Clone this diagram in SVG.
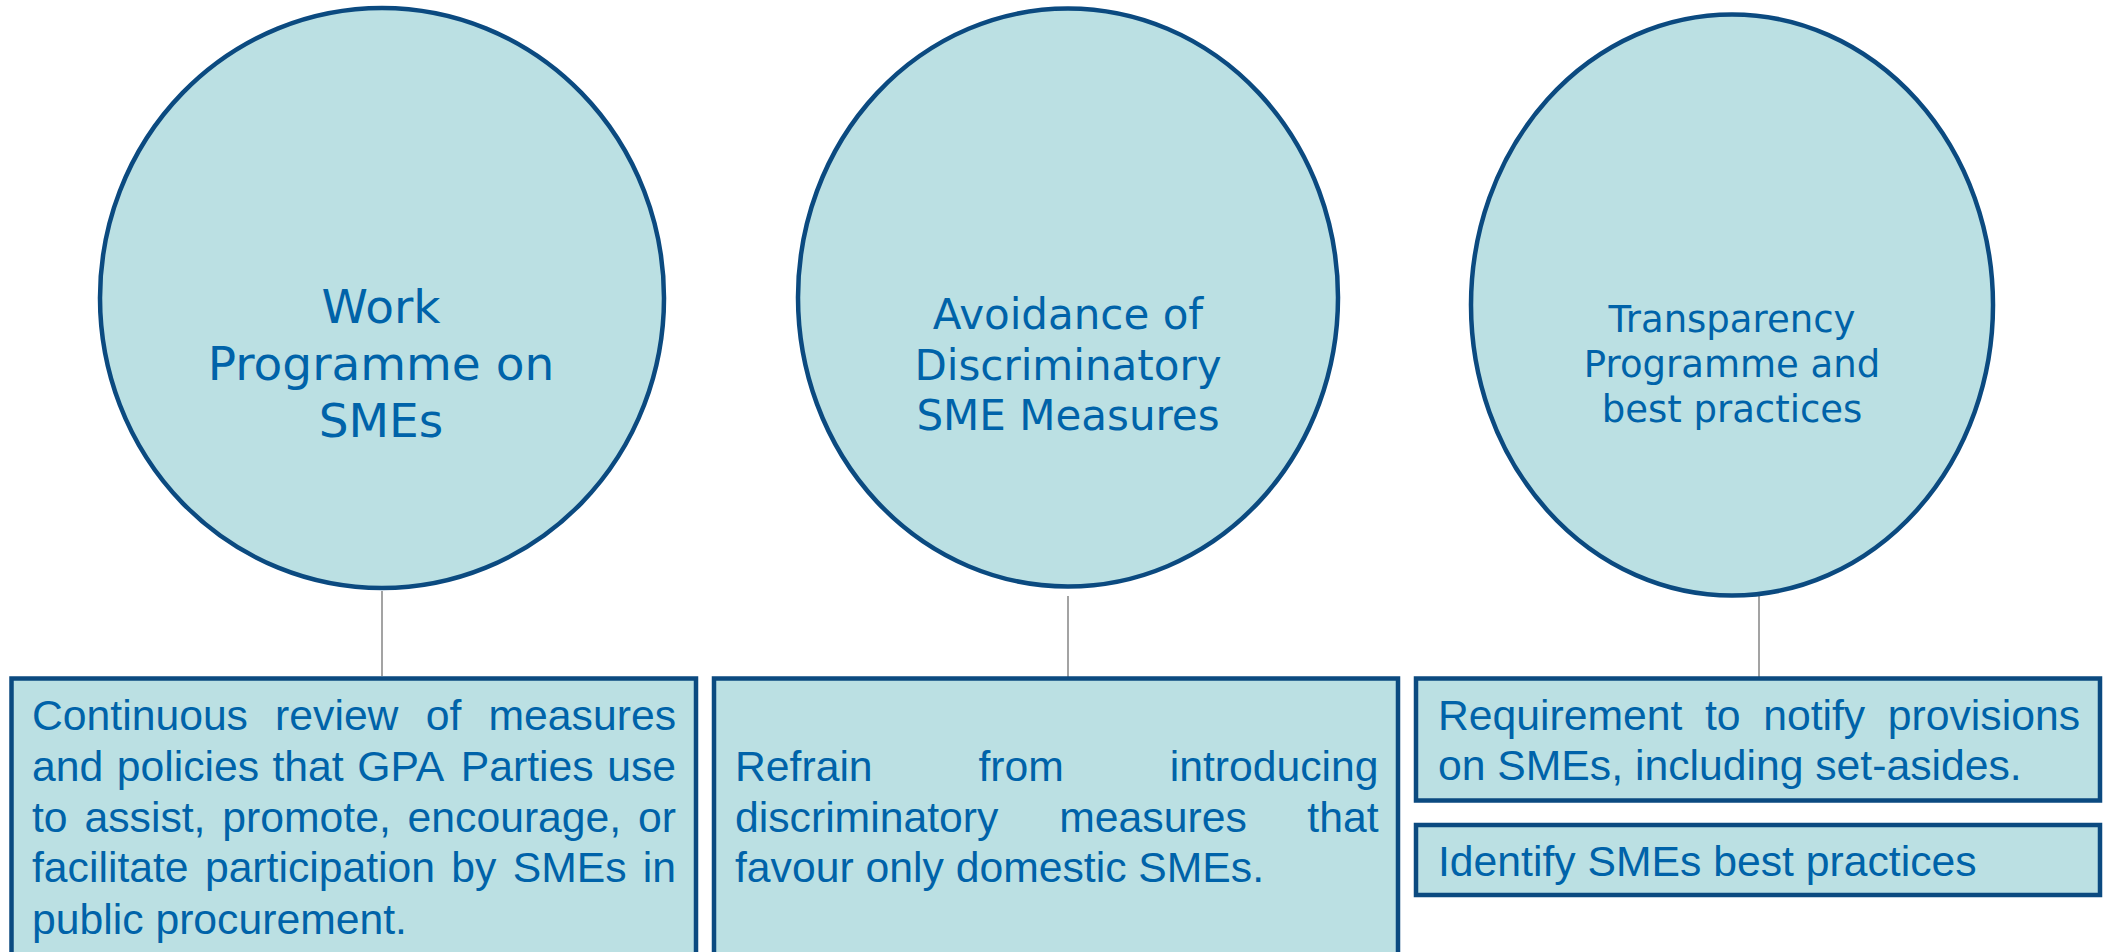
<svg xmlns="http://www.w3.org/2000/svg" width="2103" height="952" viewBox="0 0 2103 952">
<style>
.node{fill:#BBE0E3;stroke:#0B4A80;stroke-width:4.5}
.ct{font-family:"DejaVu Sans",Verdana,sans-serif;fill:#0063A9;text-anchor:middle}
.bt{font-family:"Liberation Sans",Arial,sans-serif;font-size:42.7px;fill:#0063A9}
.conn{stroke:#8C8C8C;stroke-width:1.6;fill:none}
</style>
<rect width="2103" height="952" fill="#FFFFFF"/>
<g id="connectors">
<line class="conn" x1="382" y1="591" x2="382" y2="676"/>
<line class="conn" x1="1068" y1="596" x2="1068" y2="677"/>
<line class="conn" x1="1759" y1="596" x2="1759" y2="677"/>
</g>
<g id="circle1">
<ellipse class="node" cx="382" cy="298" rx="282" ry="290"/>
<text class="ct" font-size="47"><tspan x="381" y="323.3">Work</tspan><tspan x="381" y="380">Programme on</tspan><tspan x="381" y="436.7">SMEs</tspan></text>
</g>
<g id="circle2">
<ellipse class="node" cx="1068" cy="297.5" rx="270" ry="289"/>
<text class="ct" font-size="42"><tspan x="1068" y="328.5">Avoidance of</tspan><tspan x="1068" y="379.5">Discriminatory</tspan><tspan x="1068" y="430">SME Measures</tspan></text>
</g>
<g id="circle3">
<ellipse class="node" cx="1732" cy="305" rx="261" ry="290.5"/>
<text class="ct" font-size="37"><tspan x="1732" y="331.5">Transparency</tspan><tspan x="1732" y="376.5">Programme and</tspan><tspan x="1732" y="421.5">best practices</tspan></text>
</g>
<g id="box1">
<rect class="node" x="11.5" y="678.5" width="684.5" height="320"/>
<text class="bt" y="729.5"><tspan x="32">Continuous</tspan><tspan x="275.1">review</tspan><tspan x="425.7">of</tspan><tspan x="676" text-anchor="end">measures</tspan></text>
<text class="bt" y="780.5"><tspan x="32">and</tspan><tspan x="116.7">policies</tspan><tspan x="272.5">that</tspan><tspan x="357.2">GPA</tspan><tspan x="460.8">Parties</tspan><tspan x="676" text-anchor="end">use</tspan></text>
<text class="bt" y="831.5"><tspan x="32">to</tspan><tspan x="84.5">assist,</tspan><tspan x="222.3">promote,</tspan><tspan x="407.6">encourage,</tspan><tspan x="676" text-anchor="end">or</tspan></text>
<text class="bt" y="882"><tspan x="32">facilitate</tspan><tspan x="204.9">participation</tspan><tspan x="451.2">by</tspan><tspan x="512.7">SMEs</tspan><tspan x="676" text-anchor="end">in</tspan></text>
<text class="bt" x="32" y="933.5">public procurement.</text>
</g>
<g id="box2">
<rect class="node" x="714" y="678.5" width="684" height="320"/>
<text class="bt" y="781"><tspan x="735">Refrain</tspan><tspan x="978.5">from</tspan><tspan x="1378.5" text-anchor="end">introducing</tspan></text>
<text class="bt" y="831.5"><tspan x="735">discriminatory</tspan><tspan x="1059.3">measures</tspan><tspan x="1378.5" text-anchor="end">that</tspan></text>
<text class="bt" x="735" y="882">favour only domestic SMEs.</text>
</g>
<g id="box3">
<rect class="node" x="1416" y="678.5" width="684" height="122"/>
<text class="bt" y="730"><tspan x="1438">Requirement</tspan><tspan x="1704.9">to</tspan><tspan x="1763.2">notify</tspan><tspan x="2080" text-anchor="end">provisions</tspan></text>
<text class="bt" x="1438" y="780">on SMEs, including set-asides.</text>
</g>
<g id="box4">
<rect class="node" x="1416" y="825" width="684" height="70"/>
<text class="bt" x="1438" y="876">Identify SMEs best practices</text>
</g>
</svg>
